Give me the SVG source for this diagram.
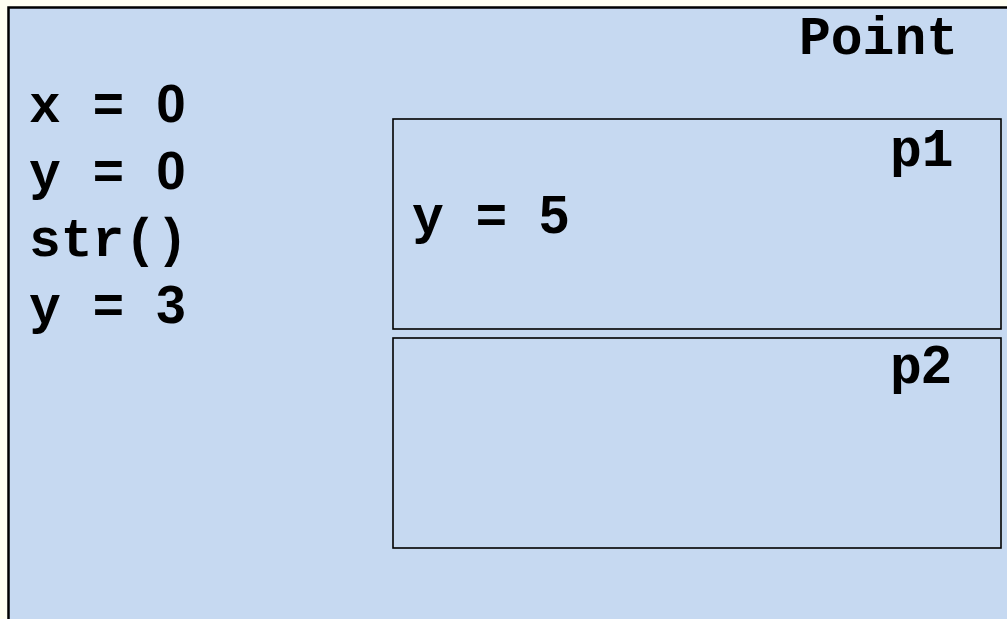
<svg xmlns="http://www.w3.org/2000/svg" width="1007" height="619" viewBox="0 0 1007 619">
<style>
.t{font-family:"Liberation Mono","Courier New",monospace;font-weight:bold;font-size:53px;fill:#000}
.d{font-family:"Liberation Sans",Arial,sans-serif;font-weight:bold}
.box{fill:#c6d9f1;stroke:#000;stroke-width:1.6}
</style>
<rect x="0" y="0" width="1007" height="619" fill="#fffff2"/>
<g id="Point">
<rect x="8.5" y="7.5" width="1010" height="620" fill="#c6d9f1" stroke="#000" stroke-width="2.5"/>
<text class="t" x="799" y="54">Point</text>
<text class="t" x="29" y="122">x = <tspan class="d">0</tspan></text>
<text class="t" x="29" y="189">y = <tspan class="d">0</tspan></text>
<text class="t" x="29" y="256">str()</text>
<text class="t" x="29" y="323">y = <tspan class="d">3</tspan></text>
</g>
<g id="p1">
<rect class="box" x="393" y="119" width="608" height="210"/>
<text class="t" x="890" y="166">p1</text>
<text class="t" x="412" y="233">y = <tspan class="d">5</tspan></text>
</g>
<g id="p2">
<rect class="box" x="393" y="338" width="608" height="210"/>
<text class="t" x="890" y="383">p<tspan class="d">2</tspan></text>
</g>
<g id="connectors"/>
</svg>
